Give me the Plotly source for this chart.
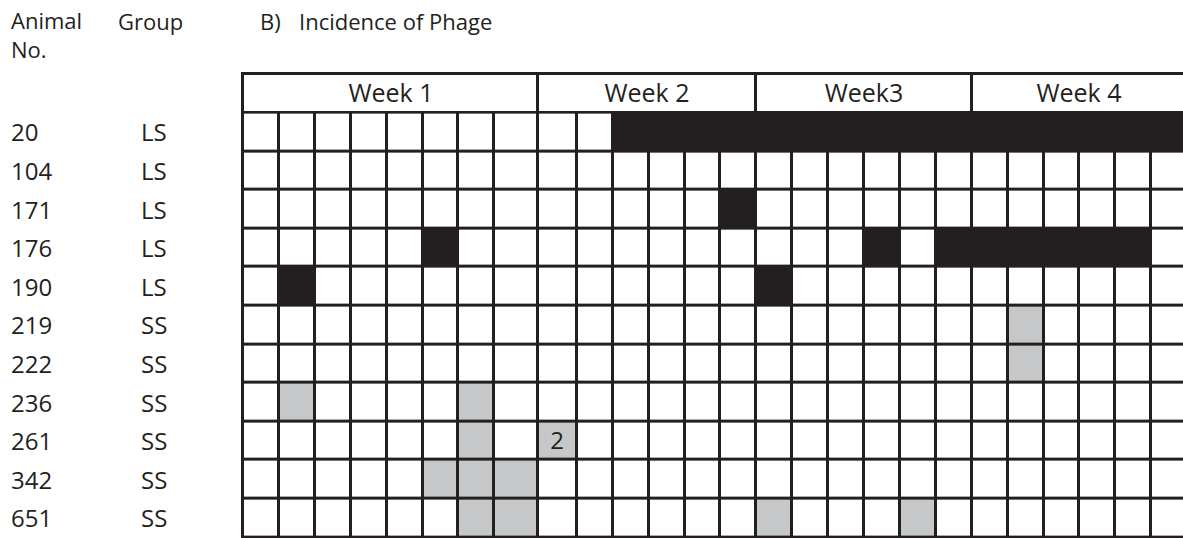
import plotly.graph_objects as go

# ---------------- data ----------------
animal_no = ["20", "104", "171", "176", "190", "219", "222", "236", "261", "342", "651"]
group = ["LS", "LS", "LS", "LS", "LS", "SS", "SS", "SS", "SS", "SS", "SS"]
weeks = ["Week 1", "Week 2", "Week3", "Week 4"]
days_per_week = [8, 6, 6, 6]

# daily phage incidence per animal: 0 = none, 1 = phage (LS, black), 2 = phage (SS, grey)
phage_20  = [0, 0, 0, 0, 0, 0, 0, 0, 0, 0, 1, 1, 1, 1, 1, 1, 1, 1, 1, 1, 1, 1, 1, 1, 1, 1]
phage_104 = [0, 0, 0, 0, 0, 0, 0, 0, 0, 0, 0, 0, 0, 0, 0, 0, 0, 0, 0, 0, 0, 0, 0, 0, 0, 0]
phage_171 = [0, 0, 0, 0, 0, 0, 0, 0, 0, 0, 0, 0, 0, 1, 0, 0, 0, 0, 0, 0, 0, 0, 0, 0, 0, 0]
phage_176 = [0, 0, 0, 0, 0, 1, 0, 0, 0, 0, 0, 0, 0, 0, 0, 0, 0, 1, 0, 1, 1, 1, 1, 1, 1, 0]
phage_190 = [0, 1, 0, 0, 0, 0, 0, 0, 0, 0, 0, 0, 0, 0, 1, 0, 0, 0, 0, 0, 0, 0, 0, 0, 0, 0]
phage_219 = [0, 0, 0, 0, 0, 0, 0, 0, 0, 0, 0, 0, 0, 0, 0, 0, 0, 0, 0, 0, 0, 2, 0, 0, 0, 0]
phage_222 = [0, 0, 0, 0, 0, 0, 0, 0, 0, 0, 0, 0, 0, 0, 0, 0, 0, 0, 0, 0, 0, 2, 0, 0, 0, 0]
phage_236 = [0, 2, 0, 0, 0, 0, 2, 0, 0, 0, 0, 0, 0, 0, 0, 0, 0, 0, 0, 0, 0, 0, 0, 0, 0, 0]
phage_261 = [0, 0, 0, 0, 0, 0, 2, 0, 2, 0, 0, 0, 0, 0, 0, 0, 0, 0, 0, 0, 0, 0, 0, 0, 0, 0]
phage_342 = [0, 0, 0, 0, 0, 2, 2, 2, 0, 0, 0, 0, 0, 0, 0, 0, 0, 0, 0, 0, 0, 0, 0, 0, 0, 0]
phage_651 = [0, 0, 0, 0, 0, 0, 2, 2, 0, 0, 0, 0, 0, 0, 2, 0, 0, 0, 2, 0, 0, 0, 0, 0, 0, 0]

# cell notes (animal, day index, text)
note_animal = ["261"]
note_day = [8]
note_text = ["2"]

incidence = [phage_20, phage_104, phage_171, phage_176, phage_190, phage_219,
             phage_222, phage_236, phage_261, phage_342, phage_651]

# ---------------- geometry / style ----------------
n_days = sum(days_per_week)
col_width = [1.0] * n_days
col_width[7] = 1.22
col_width[8] = 1.08
x_edges = [0.0]
for w in col_width:
    x_edges.append(x_edges[-1] + w)
week_edges = [0]
for d in days_per_week:
    week_edges.append(week_edges[-1] + d)
header_x = [x_edges[i] for i in week_edges]
y_edges = list(range(len(animal_no) + 1))

W, H = 1183, 538
L, T = 241, 72
grid_left_px, grid_top_px = 243.0, 74.0
unit_x, unit_y = 35.9, 38.6
plot_w, plot_h = W - L, H - T
xmin = -(grid_left_px - L) / unit_x
xmax = xmin + plot_w / unit_x
ytop = -1 - (grid_top_px - T) / unit_y
ybot = ytop + plot_h / unit_y

INK = "#231f20"
GREY = "#c6c7c9"
FONT = "Open Sans"
FS_HEAD = 22
FS_ROW = 24
FS_WEEK = 25
FS_CELL = 24

cell_text = [["" for _ in range(n_days)] for _ in animal_no]
for a, d, t in zip(note_animal, note_day, note_text):
    cell_text[animal_no.index(a)][d] = t

cscale = [[0, "#ffffff"], [1 / 3, "#ffffff"], [1 / 3, INK], [2 / 3, INK],
          [2 / 3, GREY], [1, GREY]]

fig = go.Figure()
fig.add_trace(go.Heatmap(
    z=[[0] * len(weeks)], x=header_x, y=[-1, 0],
    text=[weeks], texttemplate="%{text}",
    textfont=dict(family=FONT, size=FS_WEEK, color=INK),
    colorscale=cscale, zmin=0, zmax=2, showscale=False,
    xgap=3, ygap=3, hoverinfo="skip"))
fig.add_trace(go.Heatmap(
    z=incidence, x=x_edges, y=y_edges,
    text=cell_text, texttemplate="%{text}",
    textfont=dict(family=FONT, size=FS_CELL, color=INK),
    colorscale=cscale, zmin=0, zmax=2, showscale=False,
    xgap=3, ygap=3, hoverinfo="skip"))


def px_x(p):
    return (p - L) / plot_w


def px_y(p):
    return 1 - (p - T) / plot_h


ann = []
for i, (a, g) in enumerate(zip(animal_no, group)):
    ann.append(dict(text=a, x=px_x(9), xref="paper", y=i + 0.5, yref="y",
                    xanchor="left", yanchor="middle", showarrow=False,
                    font=dict(size=FS_ROW)))
    ann.append(dict(text=g, x=px_x(139), xref="paper", y=i + 0.5, yref="y",
                    xanchor="left", yanchor="middle", showarrow=False,
                    font=dict(size=FS_ROW)))
for txt, xp, yp in [("Animal<br>No.", 9, 34.5), ("Group", 116, 21),
                    ("B)", 258, 21), ("Incidence of Phage", 297, 21)]:
    ann.append(dict(text=txt, x=px_x(xp), xref="paper", y=px_y(yp), yref="paper",
                    xanchor="left", yanchor="middle", align="left", showarrow=False,
                    font=dict(size=FS_HEAD)))

fig.update_layout(
    width=W, height=H,
    margin=dict(l=L, r=0, t=T, b=0, pad=0),
    paper_bgcolor="#ffffff", plot_bgcolor=INK,
    font=dict(family=FONT, size=FS_HEAD, color=INK),
    xaxis=dict(range=[xmin, xmax], visible=False, fixedrange=True),
    yaxis=dict(range=[ybot, ytop], visible=False, fixedrange=True),
    annotations=ann, showlegend=False)

fig.write_html("out.html", config={"displayModeBar": False},
               post_script="document.body.style.margin='0px';")
